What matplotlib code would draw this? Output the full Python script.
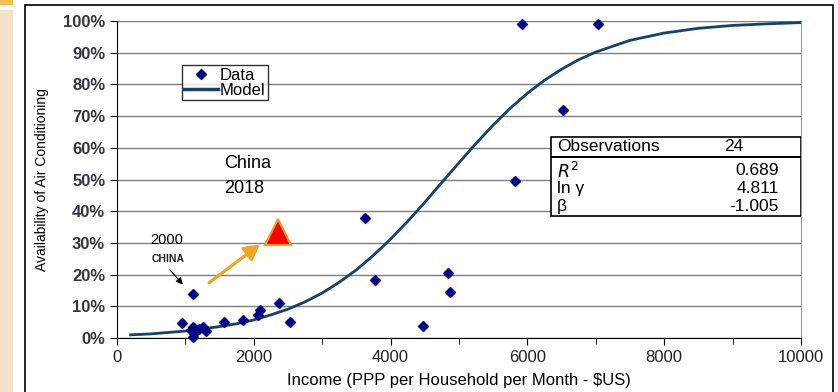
import matplotlib.pyplot as plt
import matplotlib.patches as mpatches
from matplotlib.lines import Line2D

plt.rcParams['font.family'] = ['Liberation Sans', 'DejaVu Sans']

# observed countries: income and share with air conditioning
income = [5921, 7032, 6520, 5819, 3626, 3772, 4839, 4868, 4474, 2533,
          2362, 2093, 2060, 1840, 1571, 947, 1108, 1108, 1127, 1117,
          1264, 1303, 1080, 1200]
avail = [0.99, 0.99, 0.72, 0.495, 0.38, 0.183, 0.205, 0.145, 0.038, 0.051,
         0.109, 0.088, 0.073, 0.057, 0.051, 0.046, 0.139, 0.034, 0.015, 0.004,
         0.036, 0.023, 0.025, 0.028]

# fitted model curve
model_x = [200, 500, 1000, 1500, 1750, 2000, 2250, 2500, 2750, 3000, 3250,
           3500, 3750, 4000, 4250, 4500, 4750, 5000, 5250, 5500, 5750, 6000,
           6250, 6500, 6750, 7000, 7500, 8000, 8500, 9000, 9500, 10000]
model_y = [0.010, 0.013, 0.022, 0.036, 0.045, 0.057, 0.073, 0.091, 0.114,
           0.142, 0.176, 0.215, 0.261, 0.312, 0.368, 0.428, 0.491, 0.553,
           0.614, 0.672, 0.725, 0.772, 0.813, 0.848, 0.878, 0.902, 0.939,
           0.962, 0.977, 0.986, 0.991, 0.995]

china_2018 = (2350, 0.335)
arrow_from = (1313, 0.169)
arrow_to = (2119, 0.300)

stats_names = ['Observations', '$R^{2}$', 'ln \u03b3', '\u03b2']
stats_vals = ['24', '0.689', '4.811', '-1.005']

fig = plt.figure(figsize=(8.38, 3.92), dpi=100)
fig.patches.append(mpatches.Rectangle((0, 0), 12 / 838, 382 / 392, transform=fig.transFigure,
                                      color='#F6E2CB', zorder=0))
fig.patches.append(mpatches.Rectangle((0, 388 / 392), 12 / 838, 4 / 392, transform=fig.transFigure,
                                      color='#F2C14E', zorder=0))
fig.patches.append(mpatches.Rectangle((25 / 838, -0.05), 808 / 838, 1.05 - 5 / 392,
                                      transform=fig.transFigure, fill=False,
                                      edgecolor='black', lw=1.2, zorder=1))

ax = fig.add_axes([117 / 838, 54 / 392, 684 / 838, 317 / 392])
ax.set_xlim(0, 10000)
ax.set_ylim(0, 1.0)

ax.plot(model_x, model_y, color='#17406D', lw=2, zorder=3)
ax.plot(income, avail, ls='none', marker='D', ms=5.5, color='#00008B', zorder=4, clip_on=False)

ax.set_yticks([i / 10 for i in range(11)])
ax.set_yticklabels([f'{i * 10}%' for i in range(11)])
ax.set_xticks(range(0, 10001, 2000))
ax.set_xticks(range(1000, 10000, 2000), minor=True)
ax.tick_params(axis='both', labelsize=12, colors='black', length=5)
ax.tick_params(axis='x', which='minor', length=4)
ax.grid(axis='y', color='#7F7F7F', lw=1)
ax.set_axisbelow(True)
for lab in ax.get_yticklabels():
    lab.set_fontweight('bold')
    lab.set_color('#333344')
for lab in ax.get_xticklabels():
    lab.set_color('#222222')
ax.spines['top'].set_visible(False)
ax.spines['right'].set_color('#999999')
ax.spines['left'].set_color('black')
ax.spines['bottom'].set_color('black')

ax.set_xlabel('Income (PPP per Household per Month - $US)', fontsize=12, labelpad=6)
ax.set_ylabel('Availability of Air Conditioning', fontsize=10, labelpad=10)

# legend
handles = [Line2D([], [], ls='none', marker='D', ms=5, color='#00008B'),
           Line2D([], [], color='#17406D', lw=2.5)]
leg = ax.legend(handles, ['Data', 'Model'], loc='upper left', bbox_to_anchor=(0.095, 0.86),
                fontsize=12, frameon=True, fancybox=False, edgecolor='black',
                handlelength=2.0, handletextpad=0.1, borderpad=0.15, labelspacing=0.0,
                borderaxespad=0)
leg.get_frame().set_linewidth(1)

# annotations
ax.plot(*china_2018, marker='^', ms=19, color='#FF0000', mec='#F0A020', mew=1.5,
        zorder=5, clip_on=False)
ax.annotate('', xy=arrow_to, xytext=arrow_from,
            arrowprops=dict(arrowstyle='-|>,head_length=0.9,head_width=0.5',
                            color='#EFA51D', lw=2.2))
ax.text(1570, 0.552, 'China', fontsize=13, va='center', ha='left')
ax.text(1570, 0.473, '2018', fontsize=13, va='center', ha='left')
ax.text(480, 0.31, '2000', fontsize=10.5, va='center', ha='left')
ax.text(510, 0.25, 'CHINA', fontsize=7.5, fontweight='bold', va='center', ha='left', color='#222222')
ax.annotate('', xy=(990, 0.162), xytext=(745, 0.222),
            arrowprops=dict(arrowstyle='-|>,head_length=0.4,head_width=0.2', color='black', lw=0.8))

# statistics box
x0, x1 = 6350, 10000
ax.add_patch(mpatches.Rectangle((x0, 0.57), x1 - x0, 0.065, fill=False, lw=1.2,
                                edgecolor='black', zorder=5))
ax.add_patch(mpatches.Rectangle((x0, 0.385), x1 - x0, 0.185, fill=False, lw=1.2,
                                edgecolor='black', zorder=5))
ax.add_patch(mpatches.Rectangle((x0, 0.385), x1 - x0, 0.25, color='white', zorder=4))
row_y = [0.604, 0.527, 0.472, 0.416]
for name, val, yy in zip(stats_names, stats_vals, row_y):
    ax.text(x0 + 80, yy, name, fontsize=12.5, va='center', ha='left', zorder=6)
    if val == '24':
        ax.text(9020, yy, val, fontsize=12.5, va='center', ha='center', zorder=6)
    else:
        ax.text(9680, yy, val, fontsize=12.5, va='center', ha='right', zorder=6)

fig.savefig('out.png', dpi=100)
